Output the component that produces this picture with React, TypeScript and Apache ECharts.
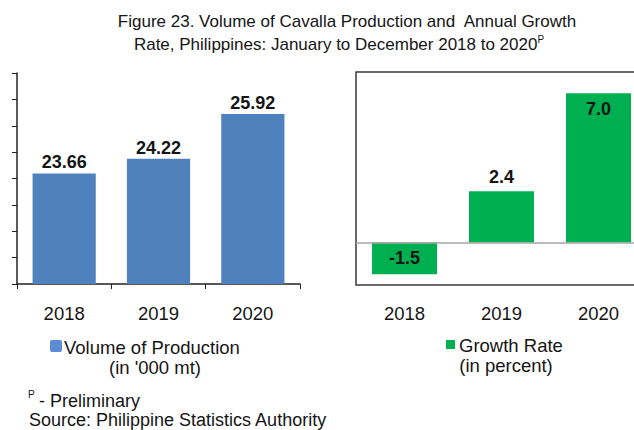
import React, { useEffect, useRef } from "react";
import * as echarts from "echarts";

const years = ["2018", "2019", "2020"];
const volume = [23.66, 24.22, 25.92];
const growth = [-1.5, 2.4, 7.0];

const FONT = "Liberation Sans, Arial, sans-serif";
const TXT = "#151515";

export default function App() {
  const ref = useRef<HTMLDivElement>(null);
  useEffect(() => {
    if (!ref.current) return;
    const chart = echarts.init(ref.current, undefined, { renderer: "svg" });
    chart.setOption({
      animation: false,
      backgroundColor: "#ffffff",
      textStyle: { fontFamily: FONT },
      grid: [
        { left: 17, top: 73, width: 283, height: 211, outerBoundsMode: "none" },
        {
          left: 356,
          top: 72,
          width: 291,
          height: 213,
          show: true,
          borderColor: "#3a3a3a",
          borderWidth: 1.5,
          outerBoundsMode: "none",
        },
      ],
      xAxis: [
        {
          gridIndex: 0,
          type: "category",
          data: years,
          axisLine: { lineStyle: { color: "#222", width: 1.5 } },
          axisTick: { show: true, inside: false, length: 5, lineStyle: { color: "#222" } },
          axisLabel: { color: TXT, fontSize: 18.5, fontFamily: FONT, margin: 20 },
        },
        {
          gridIndex: 1,
          type: "category",
          data: years,
          axisLine: { show: false, onZero: false },
          axisTick: { show: false },
          axisLabel: { color: TXT, fontSize: 18.5, fontFamily: FONT, margin: 19 },
        },
      ],
      yAxis: [
        {
          gridIndex: 0,
          type: "value",
          min: 0,
          max: 8,
          interval: 1,
          axisLine: { show: true, lineStyle: { color: "#222", width: 1.5 } },
          axisTick: { show: true, length: 5, lineStyle: { color: "#222" } },
          axisLabel: { show: false },
          splitLine: { show: false },
        },
        {
          gridIndex: 0,
          type: "value",
          min: 19.47,
          max: 27.47,
          show: false,
          splitLine: { show: false },
        },
        {
          gridIndex: 1,
          type: "value",
          min: -2,
          max: 8,
          show: false,
          splitLine: { show: false },
        },
      ],
      series: [
        {
          type: "bar",
          xAxisIndex: 0,
          yAxisIndex: 1,
          data: volume,
          barCategoryGap: "33%",
          itemStyle: { color: "#4F81BD" },
          label: {
            show: true,
            position: "top",
            distance: 2,
            color: TXT,
            fontSize: 18,
            fontWeight: "bold",
            fontFamily: FONT,
            formatter: (p: any) => p.value.toFixed(2),
          },
        },
        {
          type: "bar",
          xAxisIndex: 1,
          yAxisIndex: 2,
          data: growth.map((v, i) => ({
            value: v,
            label: {
              position: i === 0 ? "inside" : i === 1 ? "top" : "insideTop",
              distance: i === 2 ? 7 : 5,
            },
          })),
          barCategoryGap: "33%",
          itemStyle: { color: "#00B050" },
          label: {
            show: true,
            color: TXT,
            fontSize: 18,
            fontWeight: "bold",
            fontFamily: FONT,
            formatter: (p: any) => p.value.toFixed(1),
          },
          markLine: {
            silent: true,
            symbol: "none",
            label: { show: false },
            lineStyle: { color: "#a6a6a6", type: "solid", width: 1.5 },
            data: [{ yAxis: 0 }],
          },
        },
      ],
      graphic: [
        {
          type: "text",
          x: 347,
          y: 21,
          style: {
            text: "Figure 23. Volume of Cavalla Production and  Annual Growth",
            font: `17px ${FONT}`,
            fill: TXT,
            align: "center",
            verticalAlign: "middle",
          },
        },
        {
          type: "text",
          x: 339,
          y: 44,
          style: {
            text: "Rate, Philippines: January to December 2018 to 2020{sup|P}",
            font: `17px ${FONT}`,
            fill: TXT,
            align: "center",
            verticalAlign: "middle",
            rich: {
              sup: { fontSize: 10, fontFamily: FONT, fill: TXT, verticalAlign: "top", lineHeight: 20 },
            },
          },
        },
        {
          type: "rect",
          shape: { x: 50, y: 340, width: 12, height: 12, r: 2 },
          style: { fill: "#5B8BD2" },
        },
        {
          type: "text",
          x: 64,
          y: 347,
          style: { text: "Volume of Production", font: `18.5px ${FONT}`, fill: TXT, align: "left", verticalAlign: "middle" },
        },
        {
          type: "text",
          x: 155,
          y: 367,
          style: { text: "(in '000 mt)", font: `18.5px ${FONT}`, fill: TXT, align: "center", verticalAlign: "middle" },
        },
        {
          type: "rect",
          shape: { x: 446, y: 340, width: 9, height: 9 },
          style: { fill: "#00B050" },
        },
        {
          type: "text",
          x: 459,
          y: 345,
          style: { text: "Growth Rate", font: `18.5px ${FONT}`, fill: TXT, align: "left", verticalAlign: "middle" },
        },
        {
          type: "text",
          x: 506,
          y: 365,
          style: { text: "(in percent)", font: `18.5px ${FONT}`, fill: TXT, align: "center", verticalAlign: "middle" },
        },
        {
          type: "text",
          x: 28,
          y: 394,
          style: { text: "P", font: `10px ${FONT}`, fill: TXT, align: "left", verticalAlign: "middle" },
        },
        {
          type: "text",
          x: 39,
          y: 401,
          style: { text: "- Preliminary", font: `18px ${FONT}`, fill: TXT, align: "left", verticalAlign: "middle" },
        },
        {
          type: "text",
          x: 29,
          y: 420,
          style: { text: "Source: Philippine Statistics Authority", font: `18px ${FONT}`, fill: TXT, align: "left", verticalAlign: "middle" },
        },
      ],
    });
    return () => chart.dispose();
  }, []);
  return <div ref={ref} style={{ width: 634, height: 430, position: "absolute", left: 0, top: 0 }} />;
}
